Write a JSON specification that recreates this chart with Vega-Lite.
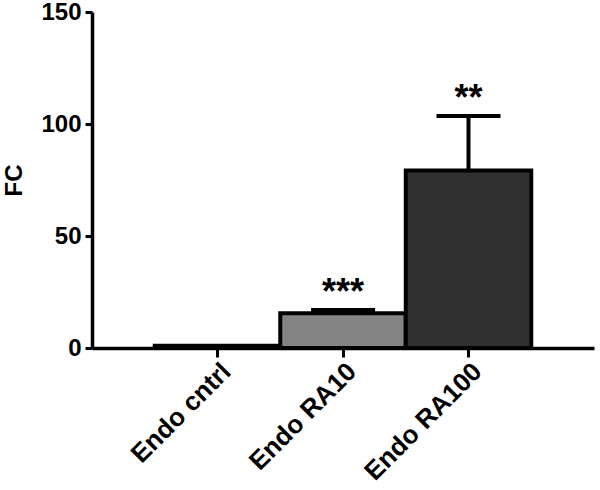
{
  "$schema": "https://vega.github.io/schema/vega-lite/v6.json",
  "autosize": {"type": "none"},
  "padding": {"left": 92, "top": 12, "right": 6, "bottom": 142},
  "width": 502,
  "height": 336,
  "background": "white",
  "config": {"view": {"stroke": null}},
  "data": {"values": [
    {"group": "Endo cntrl", "fc": 1, "upper": 1, "sig": ""},
    {"group": "Endo RA10", "fc": 15.5, "upper": 17, "sig": "***"},
    {"group": "Endo RA100", "fc": 79.2, "upper": 103.6, "sig": "**"}
  ]},
  "encoding": {
    "x": {"field": "group", "type": "nominal", "sort": null,
      "scale": {"paddingInner": 0, "paddingOuter": 0.5},
      "axis": {"title": null, "labelAngle": -45, "labelFont": "Liberation Sans", "labelFontWeight": "bold", "labelFontSize": 26, "labelColor": "black", "labelPadding": 1, "tickSize": 9, "tickWidth": 3, "tickColor": "black", "domainWidth": 3.5, "domainColor": "black"}}
  },
  "layer": [
    {
      "mark": {"type": "rule", "stroke": "black", "strokeWidth": 4},
      "encoding": {
        "y": {"field": "fc", "type": "quantitative"},
        "y2": {"field": "upper"}
      }
    },
    {
      "mark": {"type": "tick", "color": "black", "thickness": 4, "size": 64, "opacity": 1},
      "transform": [{"filter": "datum.upper > datum.fc"}],
      "encoding": {
        "y": {"field": "upper", "type": "quantitative"}
      }
    },
    {
      "mark": {"type": "bar", "stroke": "black", "strokeWidth": 4, "strokeJoin": "miter"},
      "encoding": {
        "y": {"field": "fc", "type": "quantitative",
          "scale": {"domain": [0, 150], "nice": false},
          "axis": {"title": "FC", "values": [0, 50, 100, 150], "grid": false, "labelFont": "Liberation Sans", "labelFontWeight": "bold", "labelFontSize": 24, "labelColor": "black", "labelPadding": 4, "tickSize": 7, "tickWidth": 3, "tickColor": "black", "domainWidth": 3.5, "domainColor": "black", "titleFont": "Liberation Sans", "titleFontWeight": "bold", "titleFontSize": 24, "titleColor": "black", "titlePadding": 14}},
        "fill": {"field": "group", "type": "nominal", "legend": null,
          "scale": {"domain": ["Endo cntrl", "Endo RA10", "Endo RA100"], "range": ["#ffffff", "#848484", "#303030"]}}
      }
    },
    {
      "mark": {"type": "text", "font": "Liberation Sans", "fontWeight": "bold", "fontSize": 36, "baseline": "alphabetic", "dy": -6, "color": "black"},
      "encoding": {
        "y": {"field": "upper", "type": "quantitative"},
        "text": {"field": "sig"}
      }
    }
  ]
}
